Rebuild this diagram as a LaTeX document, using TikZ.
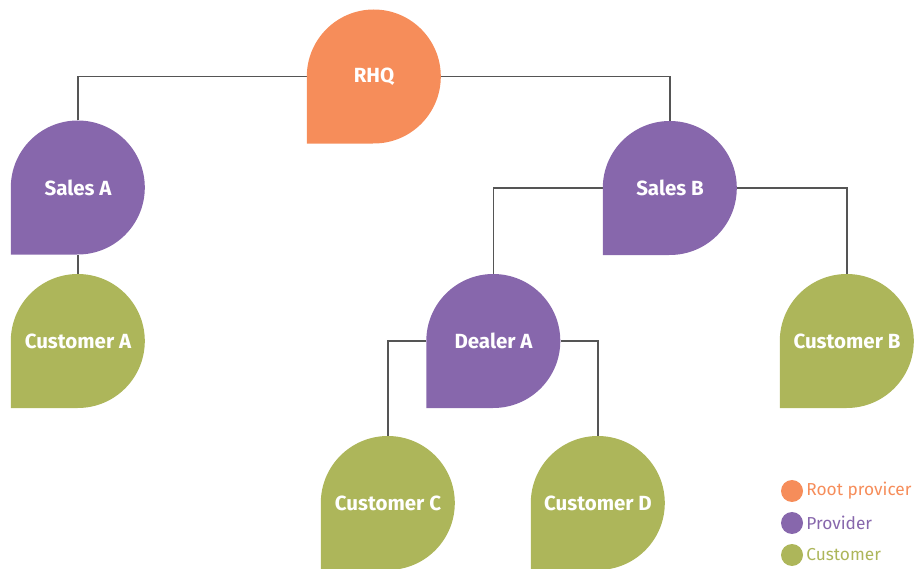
\documentclass[tikz,border=0pt]{standalone}
\usepackage{fontspec}
\setmainfont{Fira Sans}
\usetikzlibrary{backgrounds}
\definecolor{rootc}{HTML}{F68D5A}
\definecolor{provc}{HTML}{8767AC}
\definecolor{custc}{HTML}{ADB65A}
\definecolor{linec}{HTML}{555555}
\tikzset{
    drop/.style={rectangle,minimum size=134pt,inner sep=0pt,text=white,font=\bfseries\fontsize{20.5}{24}\selectfont},
    link/.style={draw=linec,line width=1.4pt},
    legdot/.style={circle,minimum size=22pt,inner sep=0pt},
}
\begin{document}
\begin{tikzpicture}[x=1pt,y=-1pt]
    \useasboundingbox(0,0)rectangle(914,569);
    \node[drop](rhq)at(374,76.5){RHQ};
    \node[drop](salesA)at(78,187.5){Sales A};
    \node[drop](salesB)at(670,188){Sales B};
    \node[drop](custA)at(78,341){Customer A};
    \node[drop](dealerA)at(493.5,341){Dealer A};
    \node[drop](custB)at(847,341){Customer B};
    \node[drop](custC)at(388,503){Customer C};
    \node[drop](custD)at(598,503){Customer D};
    \begin{scope}[on background layer]
        \draw[link](rhq.west)-|(salesA.north);
        \draw[link](rhq.east)-|(salesB.north);
        \draw[link](salesA.south)--(custA.north);
        \draw[link](salesB.west)-|(dealerA.north);
        \draw[link](salesB.east)-|(custB.north);
        \draw[link](dealerA.west)-|(custC.north);
        \draw[link](dealerA.east)-|(custD.north);
        \foreach \n/\c in {rhq/rootc,salesA/provc,salesB/provc,dealerA/provc,
            custA/custc,custB/custc,custC/custc,custD/custc}{
            \fill[\c](\n.south west)--(\n.west)arc[start angle=180,end angle=-90,radius=67pt]--cycle;
        }
    \end{scope}
    \foreach \y/\c/\t in {491/rootc/Root provicer,523/provc/Provider,555/custc/Customer}{
        \node[legdot,fill=\c](leg\y)at(792,\y){};
        \node[right,inner sep=3pt,text=\c,font=\fontsize{17.3}{20}\selectfont](legt\y)at(leg\y.east){\t};
    }
\end{tikzpicture}
\end{document}
